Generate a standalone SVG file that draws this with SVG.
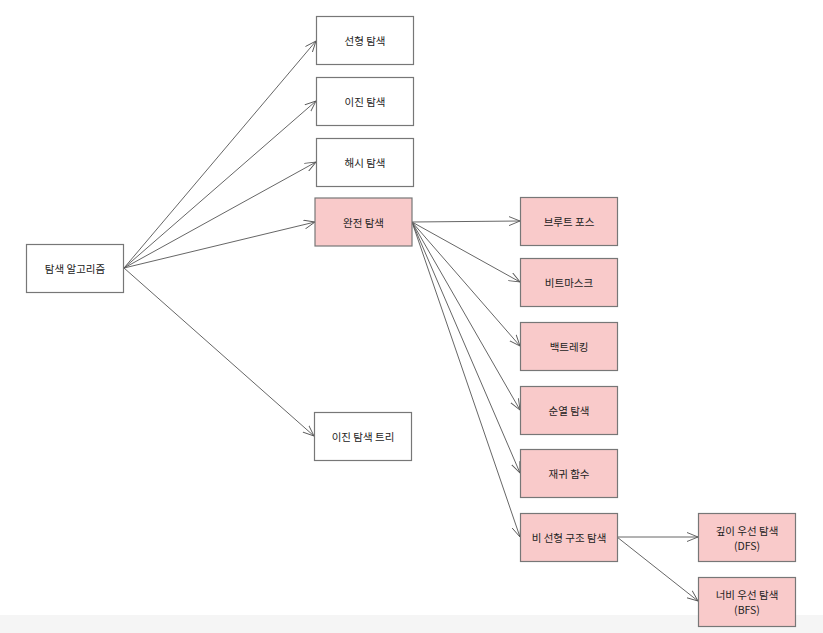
<svg xmlns="http://www.w3.org/2000/svg" width="823" height="633" viewBox="0 0 823 633">
<defs>
<style>
.n rect{stroke:#777;stroke-width:1.2}
.w rect{fill:#fff}
.p rect{fill:#f9caca}
text{font-family:"Noto Sans CJK KR","Noto Sans",sans-serif;font-size:10.5px;fill:#222;text-anchor:middle;dominant-baseline:central}
.e line{stroke:#555;stroke-width:0.9;marker-end:url(#a)}
</style>
<marker id="a" viewBox="0 0 12 10" refX="11" refY="5" markerWidth="12" markerHeight="10" markerUnits="userSpaceOnUse" orient="auto">
<path d="M0,0.5 L11,5 L0,9.5" fill="none" stroke="#555" stroke-width="0.9"/>
</marker>
</defs>
<rect x="0" y="0" width="823" height="633" fill="#fff"/>
<rect x="0" y="615" width="823" height="18" fill="#f5f5f5"/>
<g class="e" id="edges">
<line x1="124" y1="268" x2="316" y2="41"/>
<line x1="124" y1="268" x2="316" y2="101"/>
<line x1="124" y1="268" x2="316" y2="162"/>
<line x1="124" y1="268" x2="315" y2="222"/>
<line x1="124" y1="268" x2="314" y2="436"/>
<line x1="412" y1="222" x2="520" y2="221"/>
<line x1="412" y1="222" x2="520" y2="282"/>
<line x1="412" y1="222" x2="520" y2="346"/>
<line x1="412" y1="222" x2="520" y2="410"/>
<line x1="412" y1="222" x2="520" y2="473"/>
<line x1="412" y1="222" x2="520" y2="537"/>
<line x1="617" y1="537" x2="698" y2="537"/>
<line x1="617" y1="537" x2="698" y2="601"/>
</g>
<g id="root" class="n w"><rect x="26.5" y="244.5" width="97" height="48"/><text x="75" y="268.5">탐색 알고리즘</text></g>
<g id="linear" class="n w"><rect x="316.5" y="16.5" width="97" height="48"/><text x="365" y="40.5">선형 탐색</text></g>
<g id="binary" class="n w"><rect x="316.5" y="77.5" width="97" height="48"/><text x="365" y="101.5">이진 탐색</text></g>
<g id="hash" class="n w"><rect x="316.5" y="138.5" width="97" height="48"/><text x="365" y="162.5">해시 탐색</text></g>
<g id="full" class="n p"><rect x="315" y="198" width="97" height="48"/><text x="363.5" y="222">완전 탐색</text></g>
<g id="bst" class="n w"><rect x="314.5" y="412.5" width="97" height="48"/><text x="363" y="436.5">이진 탐색 트리</text></g>
<g id="brute" class="n p"><rect x="520.5" y="197.5" width="97" height="48"/><text x="569" y="221.5">브루트 포스</text></g>
<g id="bitmask" class="n p"><rect x="520.5" y="258.5" width="97" height="48"/><text x="569" y="282.5">비트마스크</text></g>
<g id="backtrack" class="n p"><rect x="520.5" y="322.5" width="97" height="48"/><text x="569" y="346.5">백트레킹</text></g>
<g id="perm" class="n p"><rect x="520.5" y="386.5" width="97" height="48"/><text x="569" y="410.5">순열 탐색</text></g>
<g id="recur" class="n p"><rect x="520.5" y="449.5" width="97" height="48"/><text x="569" y="473.5">재귀 함수</text></g>
<g id="nonlinear" class="n p"><rect x="520.5" y="513.5" width="97" height="48"/><text x="569" y="537.5">비 선형 구조 탐색</text></g>
<g id="dfs" class="n p"><rect x="698.5" y="513.5" width="97" height="48"/><text x="747" y="530">깊이 우선 탐색</text><text x="747" y="545">(DFS)</text></g>
<g id="bfs" class="n p"><rect x="698.5" y="577.5" width="97" height="49"/><text x="747" y="594">너비 우선 탐색</text><text x="747" y="609">(BFS)</text></g>
</svg>
